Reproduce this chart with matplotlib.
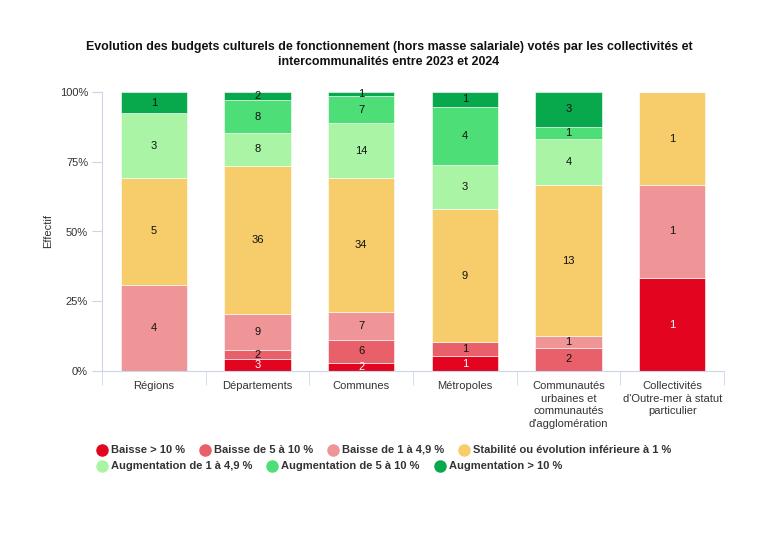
import matplotlib.pyplot as plt
import numpy as np

plt.rcParams['font.family'] = ['Liberation Sans', 'DejaVu Sans']

categories = ['Régions', 'Départements', 'Communes', 'Métropoles',
              'Communautés\nurbaines et\ncommunautés\nd\'agglomération',
              'Collectivités\nd\'Outre-mer à statut\nparticulier']
series_names = ['Baisse > 10 %', 'Baisse de 5 à 10 %', 'Baisse de 1 à 4,9 %',
                'Stabilité ou évolution inférieure à 1 %',
                'Augmentation de 1 à 4,9 %', 'Augmentation de 5 à 10 %',
                'Augmentation > 10 %']
baisse_10 = [0, 3, 2, 1, 0, 1]
baisse_5_10 = [0, 2, 6, 1, 2, 0]
baisse_1_5 = [4, 9, 7, 0, 1, 1]
stabilite = [5, 36, 34, 9, 13, 1]
hausse_1_5 = [3, 8, 14, 3, 4, 0]
hausse_5_10 = [0, 8, 7, 4, 1, 0]
hausse_10 = [1, 2, 1, 1, 3, 0]
colors = ['#e3051f', '#e8606a', '#ef9597', '#f7cd6c', '#aaf5a5', '#4ede78', '#08a84c']
yticks = [0, 25, 50, 75, 100]

counts = np.array([baisse_10, baisse_5_10, baisse_1_5, stabilite,
                   hausse_1_5, hausse_5_10, hausse_10], dtype=float)
pct = counts / counts.sum(axis=0) * 100

fig = plt.figure(figsize=(7.78, 5.42), dpi=100)
ax = fig.add_axes([102 / 778, 171 / 542, 622 / 778, 279 / 542])

x = np.arange(len(categories))
bottom = np.zeros(len(categories))
for i, name in enumerate(series_names):
    ax.bar(x, pct[i], 0.64, bottom=bottom, color=colors[i],
           edgecolor='white', linewidth=0.4)
    for j in range(len(categories)):
        if counts[i, j] > 0:
            ax.text(x[j], bottom[j] + pct[i, j] / 2, '%d' % counts[i, j],
                    ha='center', va='center', fontsize=8,
                    color='white' if i == 0 else '#111111')
    bottom += pct[i]

ax.set_xlim(-0.5, len(categories) - 0.5)
ax.set_ylim(0, 100)
ax.set_yticks(yticks)
ax.set_yticklabels(['%d%%' % t for t in yticks], fontsize=8, color='#333333')
ax.set_xticks(x)
ax.set_xticklabels(categories, fontsize=8, color='#333333', linespacing=1.35)
ax.tick_params(axis='x', length=0, pad=7)
ax.set_xticks(np.arange(len(categories) + 1) - 0.5, minor=True)
ax.tick_params(axis='x', which='minor', length=10, color='#ccd6eb')
ax.tick_params(axis='y', length=7, color='#ccd6eb', pad=3)
for s in ['top', 'right']:
    ax.spines[s].set_visible(False)
for s in ['left', 'bottom']:
    ax.spines[s].set_color('#ccd6eb')
ax.set_ylabel('Effectif', fontsize=8, color='#333333', labelpad=5)

fig.text(0.5, 1 - 54.5 / 542,
         'Evolution des budgets culturels de fonctionnement (hors masse salariale) votés par les collectivités et\nintercommunalités entre 2023 et 2024',
         ha='center', va='center', fontsize=8.9, fontweight='bold', color='#111111',
         linespacing=1.4)

# legend drawn item by item, left aligned
renderer = fig.canvas.get_renderer()
rows = [series_names[:4], series_names[4:]]
row_y = [450, 466]
k = 0
for r, row in enumerate(rows):
    px = 102
    for name in row:
        yf = 1 - row_y[r] / 542
        fig.lines.append(plt.Line2D([px / 778], [yf], marker='o', markersize=8,
                                    color=colors[k], linestyle='none',
                                    transform=fig.transFigure))
        t = fig.text((px + 9) / 778, yf, name, ha='left', va='center',
                     fontsize=8, fontweight='bold', color='#333333')
        w = t.get_window_extent(renderer).width
        px = px + 9 + w + 20
        k += 1

fig.savefig('out.png', dpi=100)
